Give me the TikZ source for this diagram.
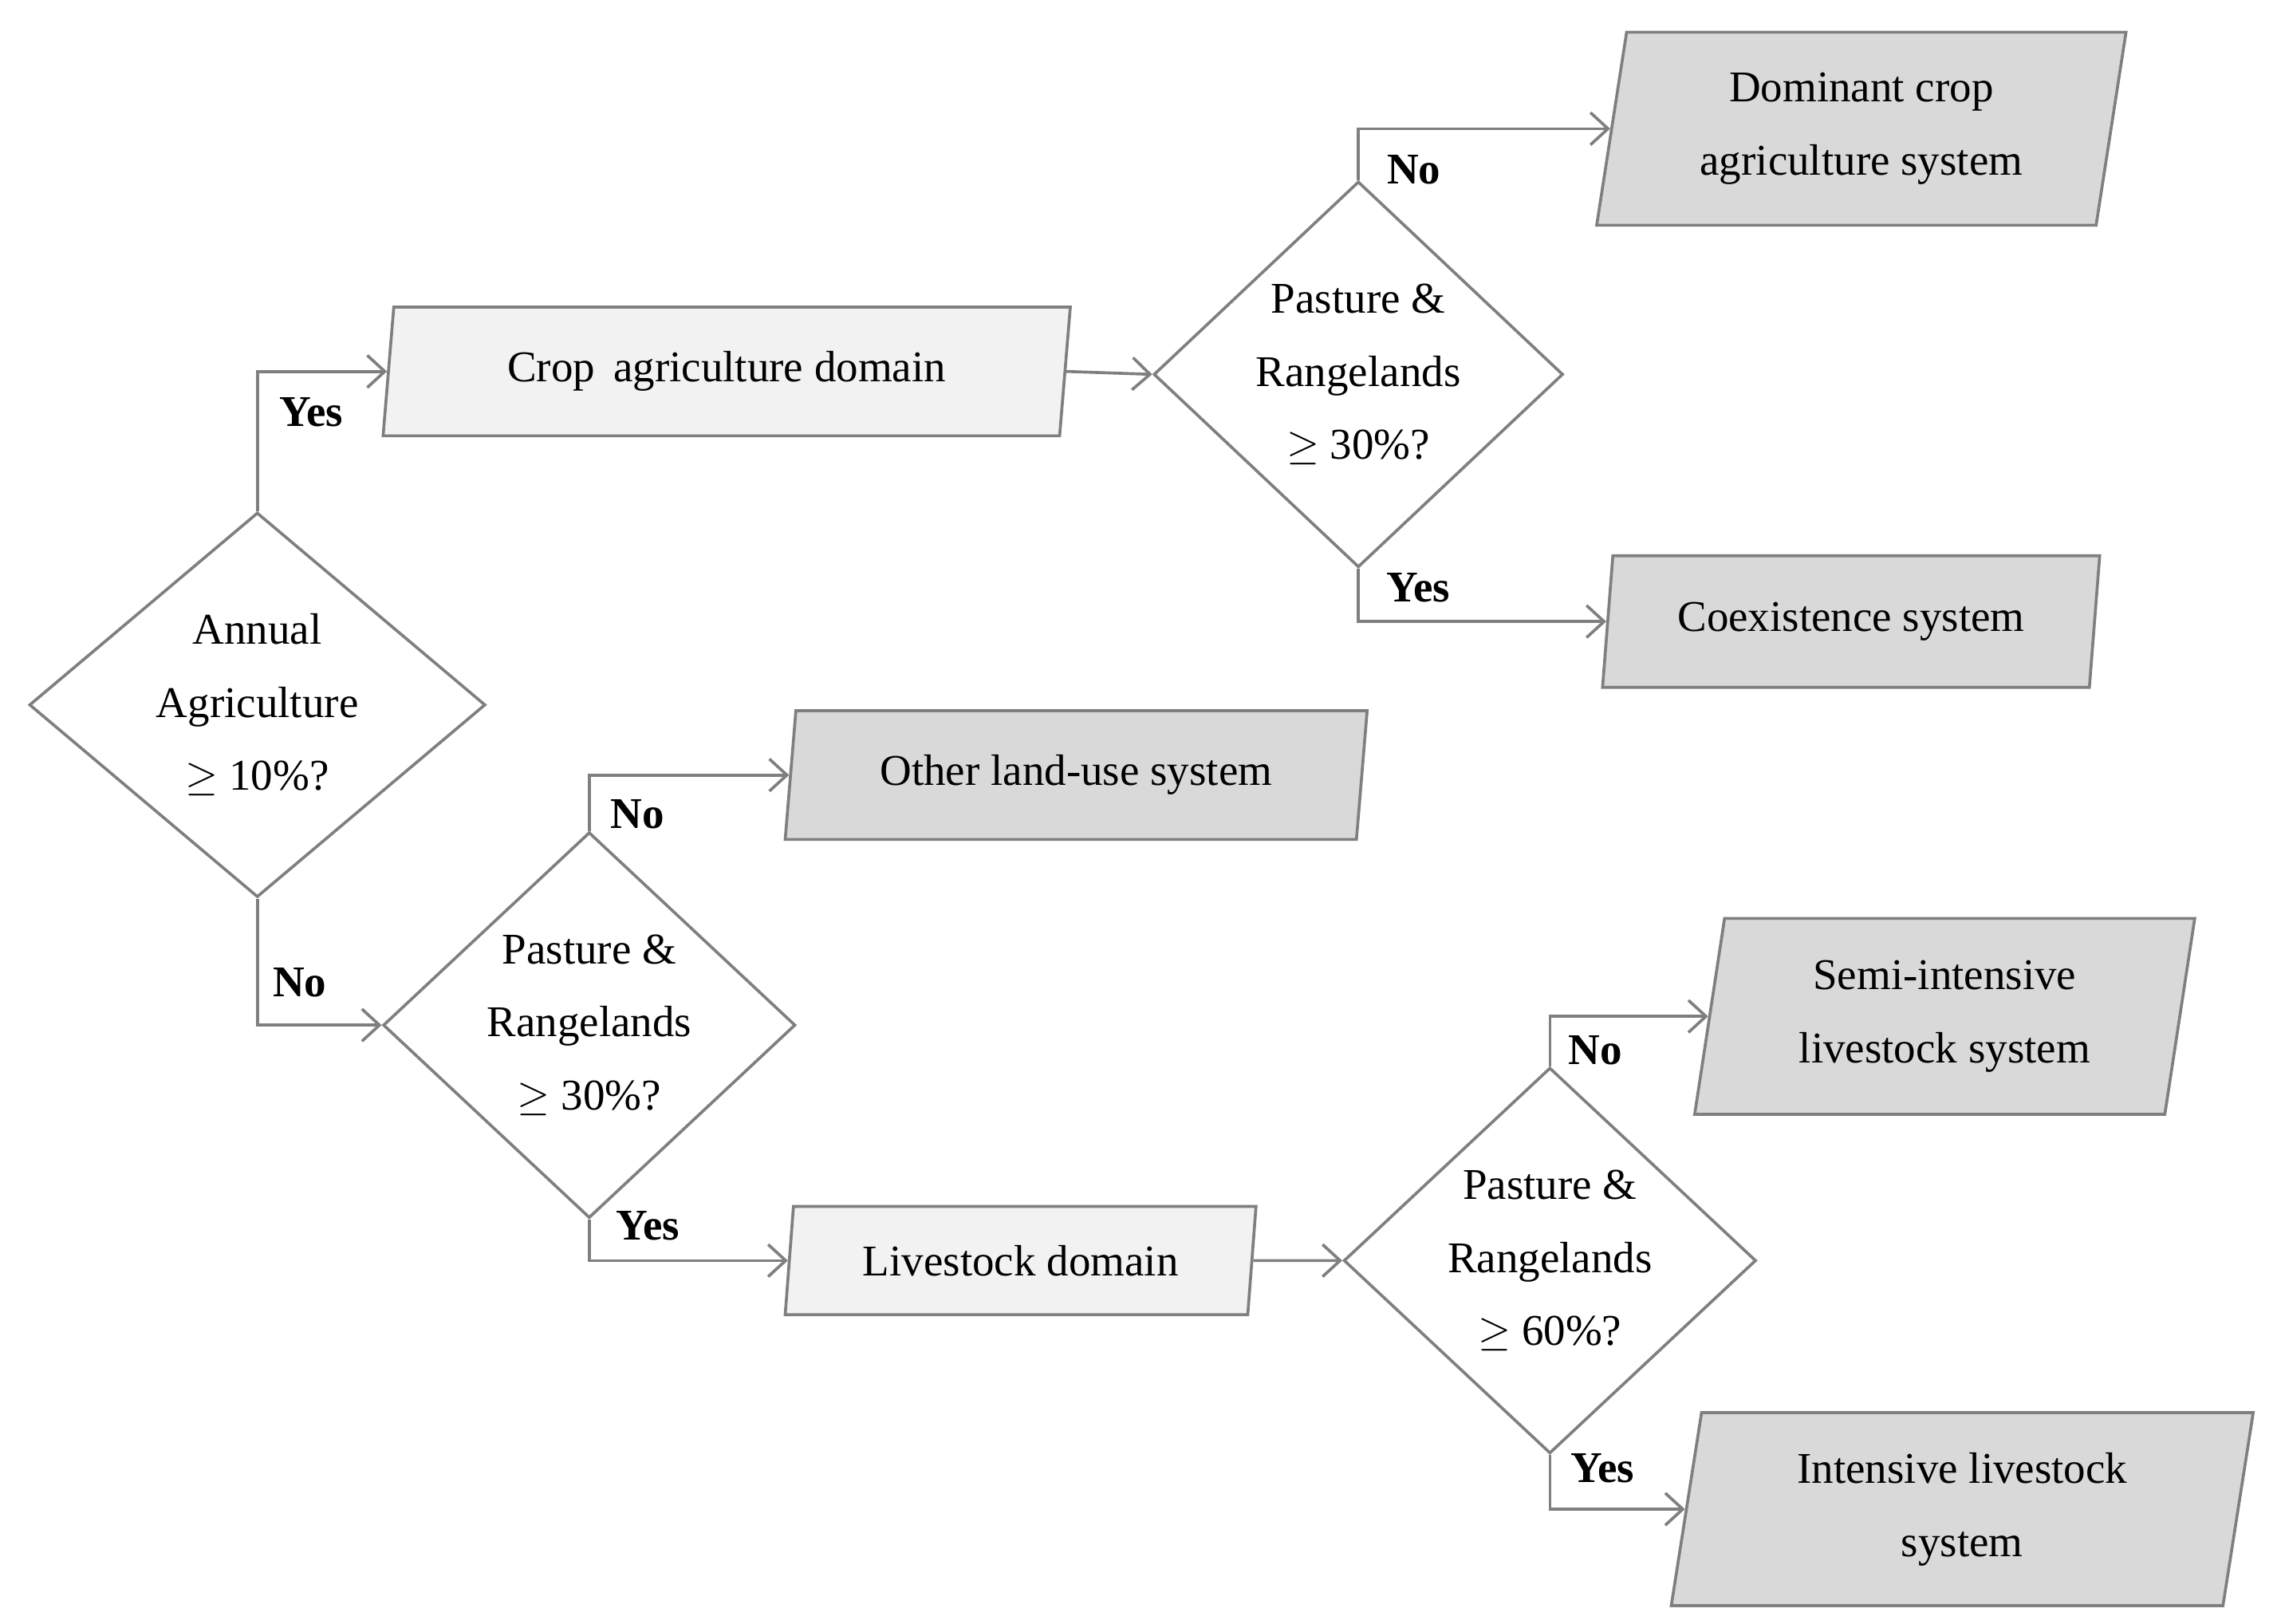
\documentclass[tikz,border=0pt]{standalone}
\usepackage{fontspec}
\setmainfont{Liberation Serif}
\usetikzlibrary{shapes.geometric,arrows.meta}
\definecolor{lineGray}{RGB}{127,127,127}
\definecolor{domFill}{RGB}{242,242,242}
\definecolor{sysFill}{RGB}{217,217,217}
\tikzset{
  decision/.style={diamond, draw=lineGray, line width=1pt, fill=white, inner sep=0pt, align=center, font=\fontsize{15}{25}\selectfont},
  para/.style={trapezium, trapezium left angle=75, trapezium right angle=105, trapezium stretches body, draw=lineGray, line width=1pt, inner sep=0pt, align=center, font=\fontsize{15}{25}\selectfont},
  domainbox/.style={para, fill=domFill},
  systembox/.style={para, fill=sysFill},
  flow/.style={draw=lineGray, line width=1pt, -{Straight Barb[length=6pt,width=11pt]}},
  answer/.style={font=\bfseries\fontsize{15}{18}\selectfont}
}
\begin{document}
\begin{tikzpicture}[x=0.5pt,y=-0.5pt]
    \useasboundingbox (0,0) rectangle (1560,1110);
    % Decisions
    \node [decision, minimum width=156pt, minimum height=98pt] (annual) at (176,482) {Annual\\Agriculture\\$\geq$ 10\%?};
    \node [decision, minimum width=140pt, minimum height=114pt] (pastA) at (929,256) {Pasture \&\\Rangelands\\$\geq$ 30\%?};
    \node [decision, minimum width=141pt, minimum height=124pt] (pastB) at (403,701) {Pasture \&\\Rangelands\\$\geq$ 30\%?};
    \node [decision, minimum width=141pt, minimum height=124pt] (pastC) at (1060,862) {Pasture \&\\Rangelands\\$\geq$ 60\%?};
    % Domains
    \node [domainbox, minimum width=235pt, minimum height=44pt] (crop) at (497,254) {Crop\, agriculture domain};
    \node [domainbox, minimum width=161pt, minimum height=37pt] (live) at (698,862) {Livestock domain};
    % Systems
    \node [systembox, minimum width=181pt, minimum height=66pt] (dominant) at (1273,88) {Dominant crop\\agriculture system};
    \node [systembox, minimum width=170pt, minimum height=45pt] (coexist) at (1266,425) {Coexistence system};
    \node [systembox, minimum width=199pt, minimum height=44pt] (other) at (736,530) {Other land-use system};
    \node [systembox, minimum width=171pt, minimum height=67pt] (semi) at (1330,695) {Semi-intensive\\livestock system};
    \node [systembox, minimum width=199pt, minimum height=66pt] (intens) at (1342,1032) {Intensive livestock\\system};
    % Connectors
    \draw [flow] (annual.north) |- (crop.west);
    \draw [flow] (annual.south) |- (pastB.west);
    \draw [flow] (crop.east) -- (pastA.west);
    \draw [flow] (pastA.north) |- (dominant.west);
    \draw [flow] (pastA.south) |- (coexist.west);
    \draw [flow] (pastB.north) |- (other.west);
    \draw [flow] (pastB.south) |- (live.west);
    \draw [flow] (live.east) -- (pastC.west);
    \draw [flow] (pastC.north) |- (semi.west);
    \draw [flow] (pastC.south) |- (intens.west);
    % Text Node
    \node [answer] (yesA) at (213,282) {Yes};
    \node [answer] (noA) at (205,672) {No};
    \node [answer] (noB) at (967,116) {No};
    \node [answer] (yesB) at (970,402) {Yes};
    \node [answer] (noC) at (436,557) {No};
    \node [answer] (yesC) at (443,838) {Yes};
    \node [answer] (noD) at (1091,718) {No};
    \node [answer] (yesD) at (1096,1004) {Yes};
\end{tikzpicture}
\end{document}
